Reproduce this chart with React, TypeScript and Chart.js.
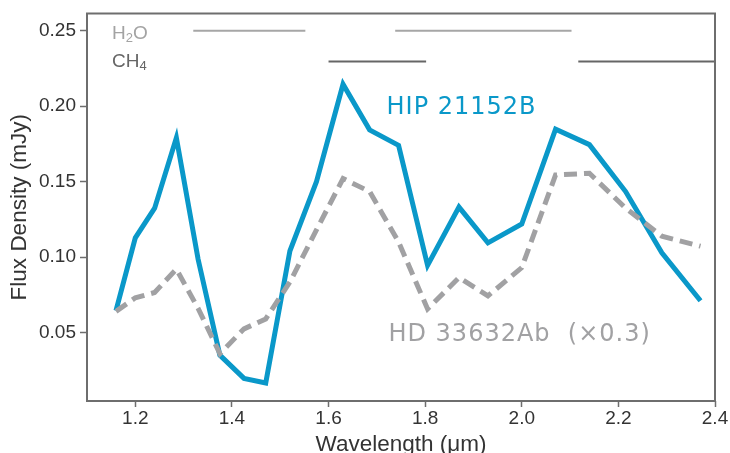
import { useEffect, useRef } from 'react';
import { Chart, registerables } from 'chart.js';

Chart.register(...registerables);

// ---- data ----
const wavelengths = [1.16, 1.20, 1.24, 1.285, 1.33, 1.375, 1.425, 1.47, 1.52, 1.575, 1.63, 1.685, 1.745, 1.805, 1.87, 1.93, 2.00, 2.07, 2.14, 2.215, 2.29, 2.37];
const hip21152B = [0.0645, 0.1127, 0.1324, 0.179, 0.0985, 0.035, 0.0196, 0.0165, 0.104, 0.150, 0.2145, 0.1843, 0.174, 0.0945, 0.1331, 0.1094, 0.1219, 0.1847, 0.1745, 0.1434, 0.1028, 0.071];
const hd33632Ab = [0.064, 0.073, 0.0765, 0.092, 0.066, 0.036, 0.0524, 0.059, 0.0834, 0.118, 0.152, 0.1434, 0.110, 0.0656, 0.0864, 0.0743, 0.093, 0.1544, 0.1555, 0.1324, 0.1138, 0.1072];

const h2oBands = [[1.32, 1.552], [1.738, 2.103]];
const ch4Bands = [[1.60, 1.802], [2.117, 2.40]];
const h2oLevel = 0.25;
const ch4Level = 0.2296;

const xTicks = [1.2, 1.4, 1.6, 1.8, 2.0, 2.2, 2.4];
const yTicks = [0.05, 0.10, 0.15, 0.20, 0.25];

const hipLabel = 'HIP 21152B';
const hdLabel = 'HD 33632Ab  (\u00d70.3)';
const xTitle = 'Wavelength (\u03bcm)';
const yTitle = 'Flux Density (mJy)';

const BLUE = '#0a98c9';
const GRAY = '#a1a1a3';
const AXIS = '#6e6e6e';
const TEXT = '#333333';

function bandData(bands: number[][], level: number) {
  const out: { x: number; y: number | null }[] = [];
  bands.forEach(([a, b]) => {
    out.push({ x: a, y: level }, { x: b, y: level }, { x: (a + b) / 2, y: null });
  });
  return out;
}

const textPlugin = {
  id: 'customTexts',
  afterDatasetsDraw(chart: any) {
    const { ctx, chartArea, scales } = chart;
    const xs = scales.x;
    const ys = scales.y;
    ctx.save();
    // frame
    ctx.strokeStyle = AXIS;
    ctx.lineWidth = 2;
    ctx.strokeRect(chartArea.left, chartArea.top, chartArea.right - chartArea.left, chartArea.bottom - chartArea.top);

    // series labels
    ctx.textAlign = 'left';
    ctx.textBaseline = 'alphabetic';
    ctx.font = '24px "DejaVu Sans"';
    (ctx as any).letterSpacing = '1px';
    ctx.fillStyle = BLUE;
    ctx.fillText(hipLabel, xs.getPixelForValue(1.72), ys.getPixelForValue(0.1951));
    ctx.fillStyle = GRAY;
    ctx.fillText(hdLabel, xs.getPixelForValue(1.724), ys.getPixelForValue(0.0443));
    (ctx as any).letterSpacing = '0px';

    // molecule labels with subscripts
    const drawFormula = (parts: [string, boolean][], x: number, y: number, color: string) => {
      let cx = x;
      ctx.fillStyle = color;
      parts.forEach(([t, sub]) => {
        ctx.font = sub ? '13px "Liberation Sans"' : '19px "Liberation Sans"';
        ctx.fillText(t, cx, sub ? y + 3 : y);
        cx += ctx.measureText(t).width;
      });
    };
    drawFormula([['H', false], ['2', true], ['O', false]], xs.getPixelForValue(1.1517), ys.getPixelForValue(0.2445), '#a3a3a3');
    drawFormula([['CH', false], ['4', true]], xs.getPixelForValue(1.1517), ys.getPixelForValue(0.2258), '#666666');
    ctx.restore();
  },
};

export default function App() {
  const ref = useRef<HTMLCanvasElement | null>(null);
  useEffect(() => {
    document.body.style.margin = '0';
    const canvas = ref.current;
    if (!canvas) return;
    const chart = new Chart(canvas, {
      type: 'line',
      data: {
        datasets: [
          {
            label: 'HD 33632Ab',
            data: wavelengths.map((w, i) => ({ x: w, y: hd33632Ab[i] })),
            borderColor: GRAY,
            borderWidth: 5,
            borderDash: [13, 7],
            borderCapStyle: 'butt',
            borderJoinStyle: 'miter',
            pointRadius: 0,
            tension: 0,
            fill: false,
          },
          {
            label: 'HIP 21152B',
            data: wavelengths.map((w, i) => ({ x: w, y: hip21152B[i] })),
            borderColor: BLUE,
            borderWidth: 5,
            borderJoinStyle: 'miter',
            pointRadius: 0,
            tension: 0,
            fill: false,
          },
          {
            label: 'H2O',
            data: bandData(h2oBands, h2oLevel),
            borderColor: '#a6a6a6',
            borderWidth: 2,
            pointRadius: 0,
            spanGaps: false,
            fill: false,
          },
          {
            label: 'CH4',
            data: bandData(ch4Bands, ch4Level),
            borderColor: '#666666',
            borderWidth: 2,
            pointRadius: 0,
            spanGaps: false,
            fill: false,
          },
        ],
      } as any,
      options: {
        responsive: false,
        animation: false,
        devicePixelRatio: 1,
        layout: { padding: { top: 11, right: 15, left: 0, bottom: 0 } },
        plugins: { legend: { display: false }, tooltip: { enabled: false } },
        scales: {
          x: {
            type: 'linear',
            min: 1.1,
            max: 2.4,
            afterBuildTicks: (s: any) => { s.ticks = xTicks.map((v) => ({ value: v })); },
            afterFit: (s: any) => { s.height = 52; },
            border: { display: false },
            grid: { drawOnChartArea: false, drawTicks: true, tickLength: 6, tickWidth: 1.5, tickColor: AXIS },
            ticks: {
              autoSkip: false,
              maxRotation: 0,
              padding: 0,
              color: TEXT,
              font: { family: '"Liberation Sans"', size: 19 },
              callback: (v: any) => Number(v).toFixed(1),
            },
            title: {
              display: true,
              text: xTitle,
              color: TEXT,
              padding: 0,
              font: { family: '"Liberation Sans"', size: 22.5, lineHeight: 0.7 },
            },
          },
          y: {
            type: 'linear',
            min: 0.0046,
            max: 0.2614,
            afterBuildTicks: (s: any) => { s.ticks = yTicks.map((v) => ({ value: v })); },
            afterFit: (s: any) => { s.width = 87; },
            border: { display: false },
            grid: { drawOnChartArea: false, drawTicks: true, tickLength: 7, tickWidth: 1.5, tickColor: AXIS },
            ticks: {
              padding: 4,
              color: TEXT,
              font: { family: '"Liberation Sans"', size: 19, lineHeight: 1.0 },
              callback: (v: any) => Number(v).toFixed(2),
            },
            title: {
              display: true,
              text: yTitle,
              color: TEXT,
              padding: { top: 6, bottom: 0 },
              font: { family: '"Liberation Sans"', size: 22.5, lineHeight: 1.2 },
            },
          },
        },
      } as any,
      plugins: [textPlugin],
    });
    return () => chart.destroy();
  }, []);
  return (
    <div style={{ width: 730, height: 453 }}>
      <canvas ref={ref} width={730} height={453} style={{ display: 'block' }} />
    </div>
  );
}
